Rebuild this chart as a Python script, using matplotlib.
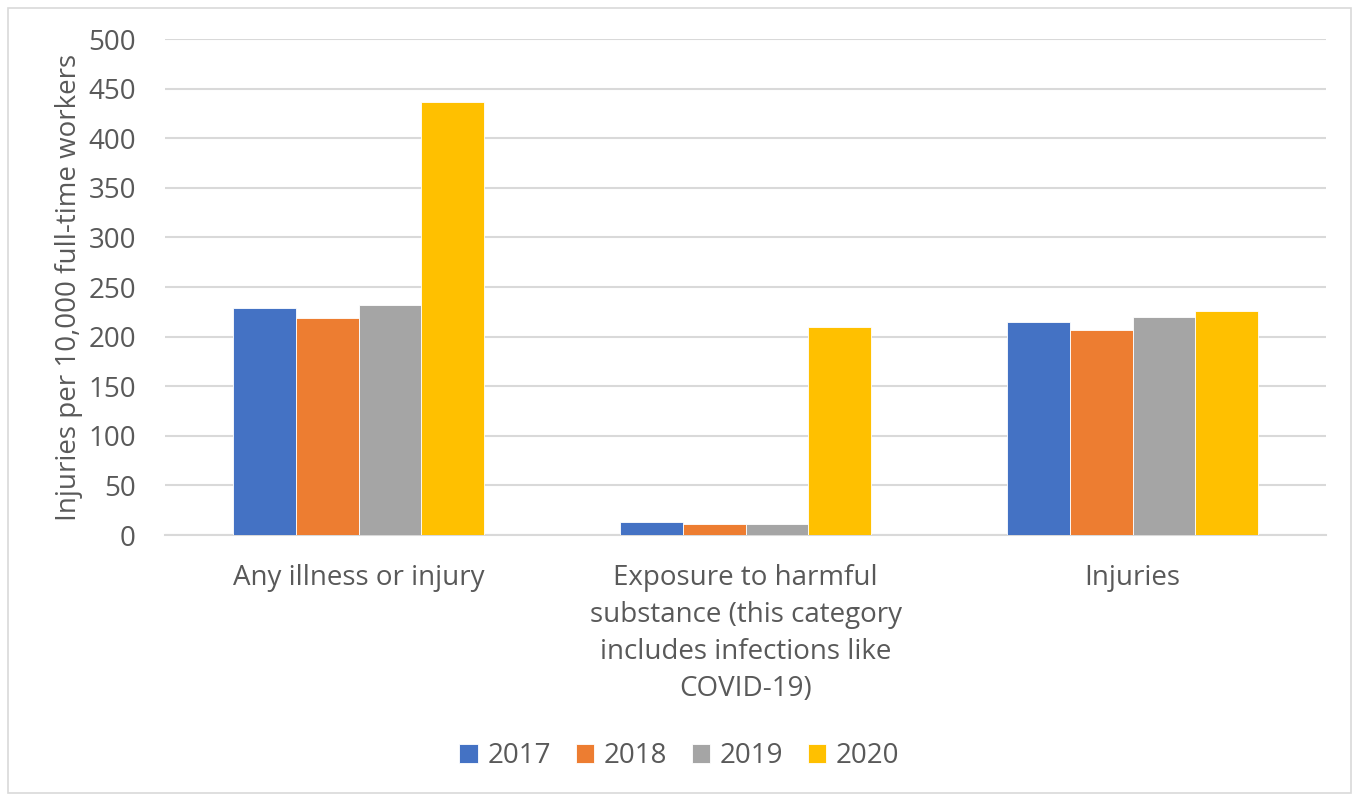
"""
Injury rates per 10,000 full-time workers, grouped bar chart (2017-2020).
"""

import matplotlib.pyplot as plt
import numpy as np
from matplotlib.patches import Rectangle


categories = [
    "Any illness or injury",
    "Exposure to harmful\nsubstance (this category\nincludes infections like\nCOVID-19)",
    "Injuries",
]
years = ["2017", "2018", "2019", "2020"]

rate_2017 = [228.5, 13.4, 214.5]
rate_2018 = [218.5, 11.2, 207.0]
rate_2019 = [232.0, 11.5, 220.0]
rate_2020 = [436.0, 210.0, 225.5]

colors = ["#4472C4", "#ED7D31", "#A5A5A5", "#FFC000"]
text_color = "#595959"
grid_color = "#D9D9D9"

plt.rcParams["font.family"] = ["Open Sans", "DejaVu Sans"]

fig = plt.figure(figsize=(13.59, 7.95), dpi=100)
ax = fig.add_axes([165 / 1359, 1 - 535 / 795, (1326 - 165) / 1359, (535 - 39) / 795])

series = [rate_2017, rate_2018, rate_2019, rate_2020]
x = np.arange(len(categories))
bar_w = 0.1615
offsets = (np.arange(len(series)) - 1.5) * bar_w

for vals, off, col, label in zip(series, offsets, colors, years):
    ax.bar(x + off, vals, width=bar_w, color=col, edgecolor="white",
           linewidth=0.6, label=label, zorder=3)

ax.set_xlim(-0.5, 2.5)
ax.set_ylim(0, 500)
ax.set_yticks(np.arange(0, 501, 50))
ax.yaxis.grid(True, color=grid_color, linewidth=1.5, zorder=0)
ax.set_axisbelow(True)
ax.tick_params(axis="both", length=0, labelsize=20, colors=text_color)
ax.tick_params(axis="y", pad=21)
ax.tick_params(axis="x", pad=21)
ax.set_xticks(x)
ax.set_xticklabels(categories, linespacing=1.42)

for side in ["top", "right", "left"]:
    ax.spines[side].set_visible(False)
ax.spines["bottom"].set_color(grid_color)
ax.spines["bottom"].set_linewidth(1.5)

ax.set_ylabel("Injuries per 10,000 full-time workers", fontsize=20,
              color=text_color, labelpad=4)

ax.legend(loc="center", bbox_to_anchor=(0.5, 1 - 756 / 795), bbox_transform=fig.transFigure,
          ncol=4, frameon=False, fontsize=20, labelcolor=text_color,
          handlelength=0.65, handleheight=0.65, handletextpad=0.35, columnspacing=0.9)

# light outer border like the original chart frame
fig.patches.append(Rectangle((8 / 1359, 0.002), 1 - 16 / 1359, 1 - 10 / 795,
                             transform=fig.transFigure, fill=False,
                             edgecolor=grid_color, linewidth=1.2))

fig.savefig("out.png", dpi=100)
